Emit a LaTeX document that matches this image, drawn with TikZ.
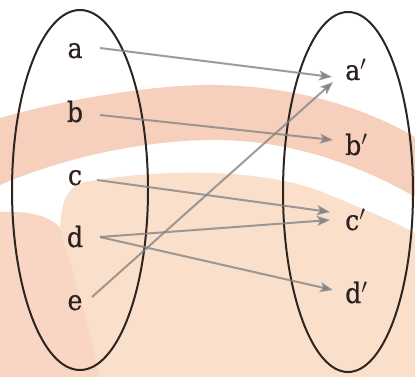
\documentclass[tikz,border=0pt]{standalone}
\usepackage{fontspec}
\setmainfont{DejaVu Serif Condensed}
\newfontfamily\lblfont{DejaVu Serif Condensed}[FakeBold=0.6]
\usetikzlibrary{arrows.meta}
\definecolor{band}{HTML}{F6D0BC}
\definecolor{peach}{HTML}{FADFCB}
\definecolor{leftc}{HTML}{F8D6C3}
\definecolor{ellc}{HTML}{2E2520}
\definecolor{labelc}{HTML}{2B2022}
\definecolor{arrowc}{HTML}{858585}
\begin{document}
\begin{tikzpicture}[x=1pt,y=-1pt,
  lbl/.style={font=\lblfont\fontsize{28}{28}\selectfont, text=labelc, inner sep=0pt},
  setell/.style={draw=ellc, line width=2pt},
  maparrow/.style={draw=arrowc, draw opacity=0.8, line width=2pt,
    -{Stealth[length=13pt,width=10pt,inset=3pt,fill=arrowc]}}]
\useasboundingbox (0,0) rectangle (415,377);
\fill[white] (0,0) rectangle (415,377);
% background watermark shapes
\fill[band] (0,118) .. controls (70,98) and (160,84) .. (215,85)
  .. controls (290,86) and (360,105) .. (415,137) -- (415,197)
  .. controls (360,165) and (290,140) .. (215,140)
  .. controls (150,140) and (70,155) .. (0,185) -- cycle;
\fill[peach] (0,212) .. controls (30,211) and (50,216) .. (60,228)
  .. controls (62,200) and (66,188) .. (85,182)
  .. controls (150,170) and (260,165) .. (330,195)
  .. controls (370,212) and (395,222) .. (415,233)
  -- (415,377) -- (0,377) -- cycle;
\fill[leftc] (0,212) .. controls (30,211) and (50,216) .. (60,228)
  .. controls (75,280) and (90,330) .. (100,377) -- (0,377) -- cycle;
% sets
\draw[setell] (80,190) ellipse [x radius=68, y radius=180];
\draw[setell] (348,192) ellipse [x radius=65, y radius=180];
% labels
\node[lbl, anchor=base] (a) at (75,58) {a};
\node[lbl, anchor=base] (b) at (75,122) {b};
\node[lbl, anchor=base] (c) at (75,185) {c};
\node[lbl, anchor=base] (d) at (75,247) {d};
\node[lbl, anchor=base] (e) at (75,310) {e};
\node[lbl, anchor=base west] (ap) at (345,80) {a$'$};
\node[lbl, anchor=base west] (bp) at (345,155) {b$'$};
\node[lbl, anchor=base west] (cp) at (345,230) {c$'$};
\node[lbl, anchor=base west] (dp) at (345,303) {d$'$};
% mapping
\draw[maparrow] ([shift={(25,-10)}]a.base) -- ([shift={(-13,-3)}]ap.base west);
\draw[maparrow] ([shift={(25,-7)}]b.base) -- ([shift={(-12,-15)}]bp.base west);
\draw[maparrow] ([shift={(22,-5)}]c.base) -- ([shift={(-15,-18)}]cp.base west);
\draw[maparrow] ([shift={(25,-10)}]d.base) -- ([shift={(-15,-10)}]cp.base west);
\draw[maparrow] ([shift={(25,-10)}]d.base) -- ([shift={(-12,-13)}]dp.base west);
\draw[maparrow] ([shift={(17,-13)}]e.base) -- ([shift={(-12,2)}]ap.base west);
\end{tikzpicture}
\end{document}
